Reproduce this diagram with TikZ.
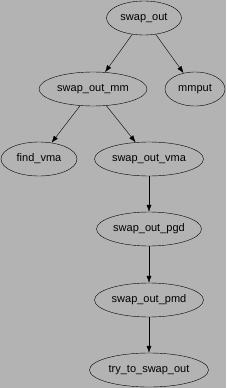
\documentclass[tikz,border=0pt]{standalone}
\usepackage{fontspec}
\setsansfont{Liberation Sans}
\usetikzlibrary{arrows.meta,shapes.geometric}
\definecolor{GraphGray}{HTML}{B3B3B3}

\begin{document}
\begin{tikzpicture}[x=1pt, y=-1pt, every node/.style={font=\sffamily\fontsize{11}{13}\selectfont}]
\fill[GraphGray] (0,0) rectangle (226,388);
\useasboundingbox (0,0) rectangle (226,388);
\foreach \name/\label/\x/\y/\w in {so/swap\_out/144/18/75,mm/swap\_out\_mm/93/89/108,mp/mmput/195/89/60,fv/find\_vma/39/159/76,vma/swap\_out\_vma/149/159/109,pgd/swap\_out\_pgd/149/229/105,pmd/swap\_out\_pmd/149/300/109,try/try\_to\_swap\_out/149/370/119}{
  \node[draw, ellipse, inner sep=0pt, minimum width=\w pt, minimum height=34pt] (\name) at (\x,\y) {\label};
}
\draw[-{Latex[length=7pt,width=5pt]}] (so)--(mm);
\draw[-{Latex[length=7pt,width=5pt]}] (so)--(mp);
\draw[-{Latex[length=7pt,width=5pt]}] (mm)--(fv);
\draw[-{Latex[length=7pt,width=5pt]}] (mm)--(vma);
\draw[-{Latex[length=7pt,width=5pt]}] (vma)--(pgd);
\draw[-{Latex[length=7pt,width=5pt]}] (pgd)--(pmd);
\draw[-{Latex[length=7pt,width=5pt]}] (pmd)--(try);
\end{tikzpicture}
\end{document}
